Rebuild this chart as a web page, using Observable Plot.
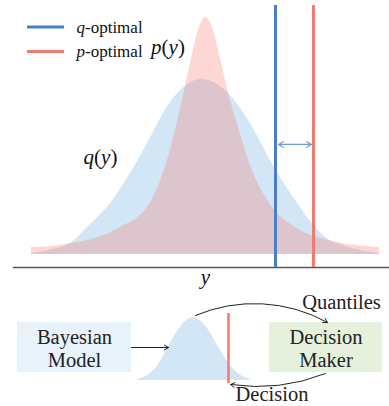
<!DOCTYPE html>
<html><head><meta charset="utf-8">
<script src="https://cdn.jsdelivr.net/npm/d3@7"></script>
<script src="https://cdn.jsdelivr.net/npm/@observablehq/plot@0.6"></script>
<style>
html,body{margin:0;padding:0;background:#fff;}
#chart{width:389px;height:406px;overflow:hidden;}
#chart svg{display:block;}
#chart svg text, #chart svg tspan{font-family:"Liberation Serif","DejaVu Serif",serif;}
</style></head><body><div id="chart"></div>
<script>
// ---- main chart data ----
// p(y): heavy-tailed, peaked density
const pX = [-4.3, -3.75, -3.325, -2.9, -2.075, -1.4, -0.9, -0.525, -0.25, -0.125, 0.05, 0.25, 0.375, 0.675, 0.875, 1.225, 1.725, 2.3, 3.125, 4.4];
const pD = [0.03, 0.034, 0.046, 0.059, 0.114, 0.198, 0.397, 0.65, 0.861, 0.945, 1, 0.945, 0.861, 0.65, 0.536, 0.354, 0.198, 0.114, 0.059, 0.03];
// q(y): wider Gaussian-like density
const qX = [-4.3, -3.75, -3.325, -2.9, -2.325, -1.825, -1.4, -1.0, -0.575, -0.05, 0.625, 1.125, 1.725, 2.3, 2.8, 3.125, 3.55, 4.4];
const qD = [0.004, 0.021, 0.046, 0.114, 0.215, 0.342, 0.468, 0.595, 0.692, 0.738, 0.679, 0.565, 0.380, 0.228, 0.114, 0.063, 0.034, 0.004];
// optimal decisions
const qOptimal = 1.8;
const pOptimal = 2.75;
const gapArrow = [1.875, 2.7];
// legend
const legendLabels = ["*q*-optimal", "*p*-optimal"];
const legendColors = ["#4a7fc5", "#f27b6d"];
const legendY = [0.9596, 0.8566];
// curve labels
const curveLabels = ["*p*(*y*)", "*q*(*y*)", "*y*"];
const curveLabelX = [-0.8875, -2.575, 0.05];
const curveLabelY = [0.8734, 0.4092, -0.0941];

// ---- diagram (schematic layout units) ----
const boxLabels = ["Bayesian\nModel", "Decision\nMaker"];
const boxX1 = [17, 269];
const boxX2 = [131, 382];
const boxFills = ["#e8f2fa", "#e5f1dc"];
const miniX = [137, 147, 157, 167, 177, 185, 193, 201, 209, 219, 229, 239, 250];
const miniH = [1, 5, 14, 32, 49, 59, 63, 59, 49, 32, 16, 6, 1];
const decisionX = 228;
const flowX1 = [131, 195, 325];
const flowY1 = [55, 23, 81];
const flowX2 = [168, 327, 230];
const flowY2 = [55, 30, 92];
const flowBend = [0, 26, 15];
const flowLabels = ["Quantiles", "Decision"];
const flowLabelX = [341, 271.5];
const flowLabelY = [9.7, 102];

const serif = "'Liberation Serif', 'DejaVu Serif', serif";
const blue = legendColors[0], red = legendColors[1];
const yLo = -0.0549, yHi = 1.0506;

const pData = pX.map((x, i) => ({x, d: pD[i]}));
const qData = qX.map((x, i) => ({x, d: qD[i]}));
const legend = legendLabels.map((label, i) => ({label, color: legendColors[i], y: legendY[i]}));
const labels = curveLabels.map((text, i) => ({text, x: curveLabelX[i], y: curveLabelY[i]}));

const main = Plot.plot({
  width: 389, height: 292,
  marginLeft: 13, marginRight: 0, marginTop: 5, marginBottom: 25,
  x: {domain: [-4.75, 4.65], axis: null},
  y: {domain: [yLo, yHi], axis: null},
  style: {fontFamily: serif, background: "transparent", color: "#111"},
  marks: [
    Plot.areaY(qData, {x: "x", y: "d", fill: "#6aace0", fillOpacity: 0.3, curve: "monotone-x"}),
    Plot.areaY(pData, {x: "x", y: "d", fill: "#f87a6c", fillOpacity: 0.3, curve: "monotone-x"}),
    Plot.ruleY([yLo], {stroke: "#555", strokeWidth: 1.5}),
    Plot.ruleX([qOptimal], {stroke: blue, strokeWidth: 3}),
    Plot.ruleX([pOptimal], {stroke: red, strokeWidth: 3}),
    Plot.arrow(gapArrow, {x1: (gapArrow[0] + gapArrow[1]) / 2, x2: d => d, y1: 0.4642, y2: 0.4642, stroke: "#6c9bd6", strokeWidth: 1.3}),
    ...legend.map(l => Plot.ruleY([l], {y: "y", x1: -4.4, x2: -3.475, stroke: l.color, strokeWidth: 3})),
    Plot.text(legend, {x: -3.175, y: "y", text: "label", textAnchor: "start", fontSize: 17, fontFamily: serif, fill: "#111"}),
    Plot.text(labels, {x: "x", y: "y", text: "text", fontSize: 21, fontFamily: serif, fill: "#111"})
  ]
});

const boxes = boxLabels.map((label, i) => ({label, x1: boxX1[i], x2: boxX2[i], fill: boxFills[i]}));
const mini = miniX.map((x, i) => ({x, h: miniH[i]}));
const flows = flowX1.map((x1, i) => ({x1, y1: flowY1[i], x2: flowX2[i], y2: flowY2[i], bend: flowBend[i]}));
const flowText = flowLabels.map((text, i) => ({text, x: flowLabelX[i], y: flowLabelY[i]}));
const miniBase = 88;

const diag = Plot.plot({
  width: 389, height: 114, margin: 0,
  x: {domain: [0, 389], range: [0, 389], axis: null},
  y: {domain: [0, 114], range: [0, 114], axis: null},
  style: {fontFamily: serif, background: "transparent", color: "#222"},
  marks: [
    Plot.rect(boxes, {x1: "x1", x2: "x2", y1: 30, y2: 80, fill: "fill"}),
    Plot.areaY(mini, {x: "x", y1: miniBase, y2: d => miniBase - d.h, fill: "#d3e6f5", curve: "monotone-x"}),
    Plot.ruleX([decisionX], {y1: 21, y2: 91, stroke: red, strokeWidth: 2.5}),
    ...flows.map(f => Plot.arrow([f], {x1: "x1", y1: "y1", x2: "x2", y2: "y2", bend: f.bend, stroke: "#222", strokeWidth: 1, headLength: 7})),
    Plot.text(boxes, {x: d => (d.x1 + d.x2) / 2, y: 55.9, text: "label", fontSize: 20.5, lineHeight: 1.12, fill: "#222", fontFamily: serif}),
    Plot.text(flowText, {x: "x", y: "y", text: "text", fontSize: 20.5, fill: "#222", fontFamily: serif})
  ]
});

function italicize(svg) {
  d3.select(svg).selectAll("text, tspan").each(function () {
    if (this.childElementCount) return;
    const s = this.textContent;
    if (!s.includes("*")) return;
    const parts = s.split("*");
    this.textContent = "";
    parts.forEach((p, i) => {
      if (!p) return;
      const t = document.createElementNS("http://www.w3.org/2000/svg", "tspan");
      t.textContent = p;
      if (i % 2) t.setAttribute("font-style", "italic");
      this.appendChild(t);
    });
  });
}
italicize(main);
document.getElementById("chart").append(main, diag);
</script></body></html>
